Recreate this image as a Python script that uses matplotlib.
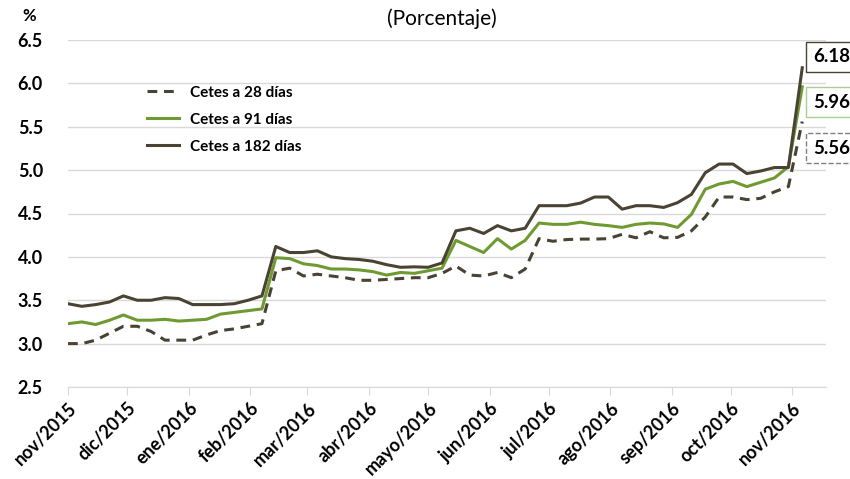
import matplotlib
matplotlib.use('Agg')
import matplotlib.pyplot as plt
import pandas as pd


# Weekly auction rates (Cetes)
cetes_28 = [3.00, 3.00, 3.04, 3.12, 3.20, 3.20, 3.14, 3.04, 3.04, 3.04,
            3.10, 3.15, 3.17, 3.20, 3.23, 3.84, 3.87, 3.78, 3.80, 3.78,
            3.76, 3.73, 3.73, 3.74, 3.75, 3.76, 3.76, 3.81, 3.895, 3.79,
            3.78, 3.82, 3.76, 3.86, 4.21, 4.18, 4.20, 4.205, 4.205, 4.21,
            4.26, 4.22, 4.29, 4.22, 4.225, 4.30, 4.46, 4.69, 4.69, 4.66,
            4.675, 4.75, 4.81, 5.56]
cetes_91 = [3.23, 3.25, 3.22, 3.27, 3.33, 3.27, 3.27, 3.28, 3.26, 3.27,
            3.28, 3.34, 3.36, 3.38, 3.40, 3.99, 3.98, 3.92, 3.90, 3.86,
            3.86, 3.85, 3.83, 3.79, 3.82, 3.81, 3.84, 3.87, 4.19, 4.12,
            4.05, 4.21, 4.09, 4.19, 4.39, 4.375, 4.375, 4.40, 4.375, 4.36,
            4.34, 4.375, 4.39, 4.38, 4.34, 4.49, 4.78, 4.84, 4.87, 4.81,
            4.86, 4.91, 5.04, 5.96]
cetes_182 = [3.46, 3.43, 3.45, 3.48, 3.55, 3.50, 3.50, 3.53, 3.52, 3.45,
             3.45, 3.45, 3.46, 3.50, 3.55, 4.12, 4.05, 4.05, 4.07, 4.00,
             3.98, 3.97, 3.95, 3.91, 3.88, 3.885, 3.88, 3.93, 4.30, 4.33,
             4.27, 4.36, 4.30, 4.33, 4.59, 4.59, 4.59, 4.62, 4.69, 4.69,
             4.55, 4.59, 4.59, 4.57, 4.625, 4.72, 4.97, 5.07, 5.07, 4.96,
             4.99, 5.03, 5.03, 6.18]
month_labels = ['nov/2015', 'dic/2015', 'ene/2016', 'feb/2016', 'mar/2016',
                'abr/2016', 'mayo/2016', 'jun/2016', 'jul/2016', 'ago/2016',
                'sep/2016', 'oct/2016', 'nov/2016']
last_labels = ['6.18', '5.96', '5.56']

dates = pd.date_range('2015-11-01', periods=len(cetes_28), freq='7D')
months = pd.date_range('2015-11-01', periods=len(month_labels), freq='MS')

dark = '#4A4333'
green = '#6F9A32'

plt.rcParams['font.family'] = ['Lato', 'DejaVu Sans']

fig = plt.figure(figsize=(8.5, 4.79), dpi=100)
ax = fig.add_axes([68 / 850, 92 / 479, 758 / 850, 347 / 479])

ax.plot(dates, cetes_28, color=dark, lw=2.2, ls=(0, (3.2, 2.2)), label='Cetes a 28 días')
ax.plot(dates, cetes_91, color=green, lw=2.2, label='Cetes a 91 días')
ax.plot(dates, cetes_182, color=dark, lw=2.2, label='Cetes a 182 días')

ax.set_ylim(2.5, 6.5)
ax.set_yticks([2.5, 3.0, 3.5, 4.0, 4.5, 5.0, 5.5, 6.0, 6.5])
ax.yaxis.set_major_formatter(plt.FormatStrFormatter('%.1f'))
ax.set_xlim(pd.Timestamp('2015-11-01'), pd.Timestamp('2016-11-18'))
ax.set_xticks(months)
ax.set_xticklabels(month_labels, rotation=45, ha='right', rotation_mode='anchor',
                   fontsize=13, fontweight='bold')
for lbl in ax.get_yticklabels():
    lbl.set_fontsize(13)
    lbl.set_fontweight('bold')

ax.grid(axis='y', color='#D9D9D9', lw=1)
ax.set_axisbelow(True)
for s in ['top', 'right', 'left']:
    ax.spines[s].set_visible(False)
ax.spines['bottom'].set_color('#D9D9D9')
ax.tick_params(axis='y', length=0, pad=18)
ax.tick_params(axis='x', length=6, color='#D9D9D9', pad=3)

ax.legend(loc='upper left', bbox_to_anchor=(133 / 850, 1 - 72 / 479),
          bbox_transform=fig.transFigure, frameon=False,
          prop={'weight': 'bold', 'size': 11}, handlelength=2.1,
          handletextpad=0.7, labelspacing=0.85)

fig.text(22 / 850, 1 - 16 / 479, '%', fontsize=12, fontweight='bold', va='center')
fig.text(442 / 850, 1 - 19 / 479, '(Porcentaje)', fontsize=15, ha='center', va='center')

# boxes with the last values
box_y = [57, 102, 148]
box_edge = [dark, '#A9D08E', '#7F7F7F']
box_ls = ['-', '-', '--']
for txt, yy, ec, ls in zip(last_labels, box_y, box_edge, box_ls):
    fig.text(813 / 850, 1 - yy / 479, txt, fontsize=13.5, fontweight='bold',
             va='center', ha='left',
             bbox=dict(boxstyle='square,pad=0.35', fc='white', ec=ec, ls=ls, lw=1))

fig.savefig('out.png', dpi=100)
